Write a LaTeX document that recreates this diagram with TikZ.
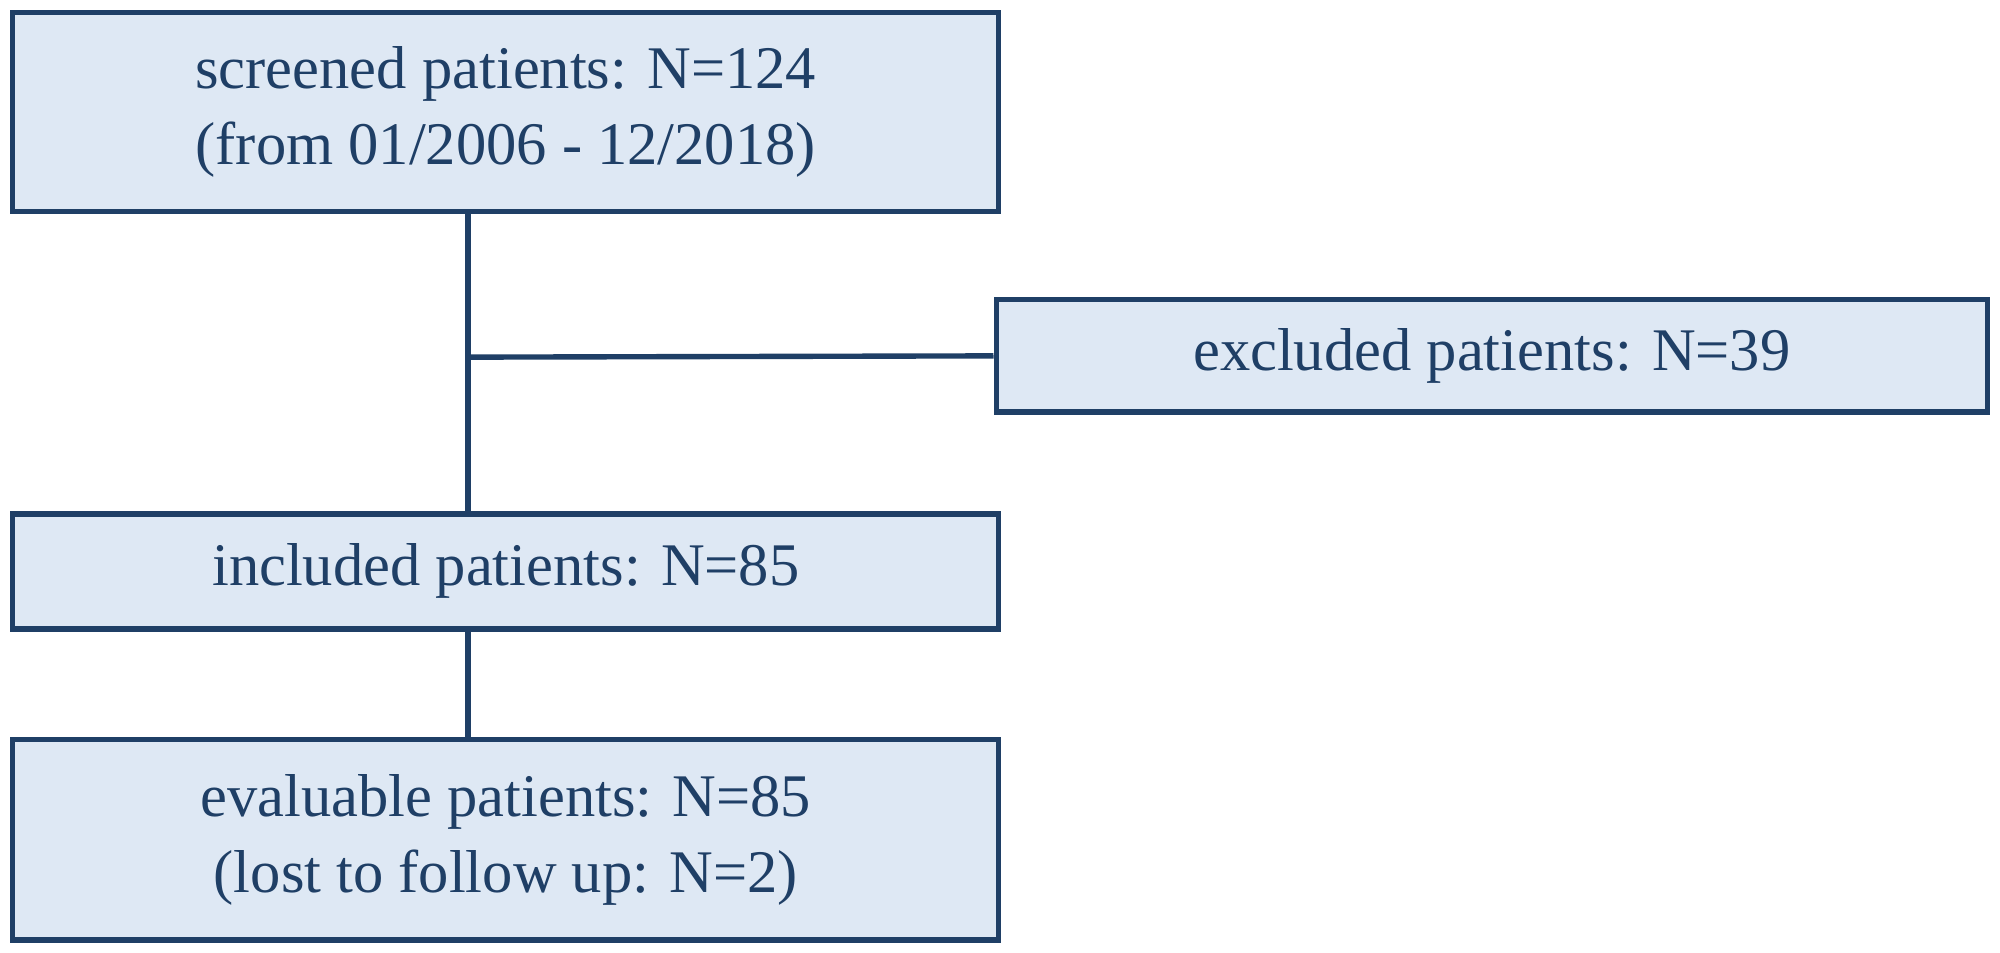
\documentclass[tikz,border=0pt]{standalone}
\usepackage{fontspec}
\setmainfont{Liberation Serif}
\definecolor{boxfill}{HTML}{DEE8F4}
\definecolor{boxline}{HTML}{1F3F66}
\begin{document}
\begin{tikzpicture}[box/.style={shape=rectangle,draw=boxline,fill=boxfill,line width=1.2pt,text=boxline,align=center,font=\fontsize{13.5}{17}\selectfont,inner sep=0pt},link/.style={draw=boxline,line width=1.2pt}]
\useasboundingbox (0,0) rectangle (15.68,7.47);

\node[box,minimum width=7.73cm,minimum height=1.56cm] (screened) at (3.965,6.59) {screened patients: N=124\\(from 01/2006 - 12/2018)};
\node[box,minimum width=7.77cm,minimum height=0.88cm] (excluded) at (11.695,4.68) {excluded patients: N=39};
\node[box,minimum width=7.73cm,minimum height=0.9cm] (included) at (3.965,2.99) {included patients: N=85};
\node[box,minimum width=7.73cm,minimum height=1.57cm] (evaluable) at (3.965,0.885) {evaluable patients: N=85\\(lost to follow up: N=2)};

\coordinate (j) at (3.67,4.67);
\draw[link] (screened.south -| j) -- (included.north -| j);
\draw[link] (j) -- (excluded.west);
\draw[link] (included.south -| j) -- (evaluable.north -| j);
\end{tikzpicture}
\end{document}
